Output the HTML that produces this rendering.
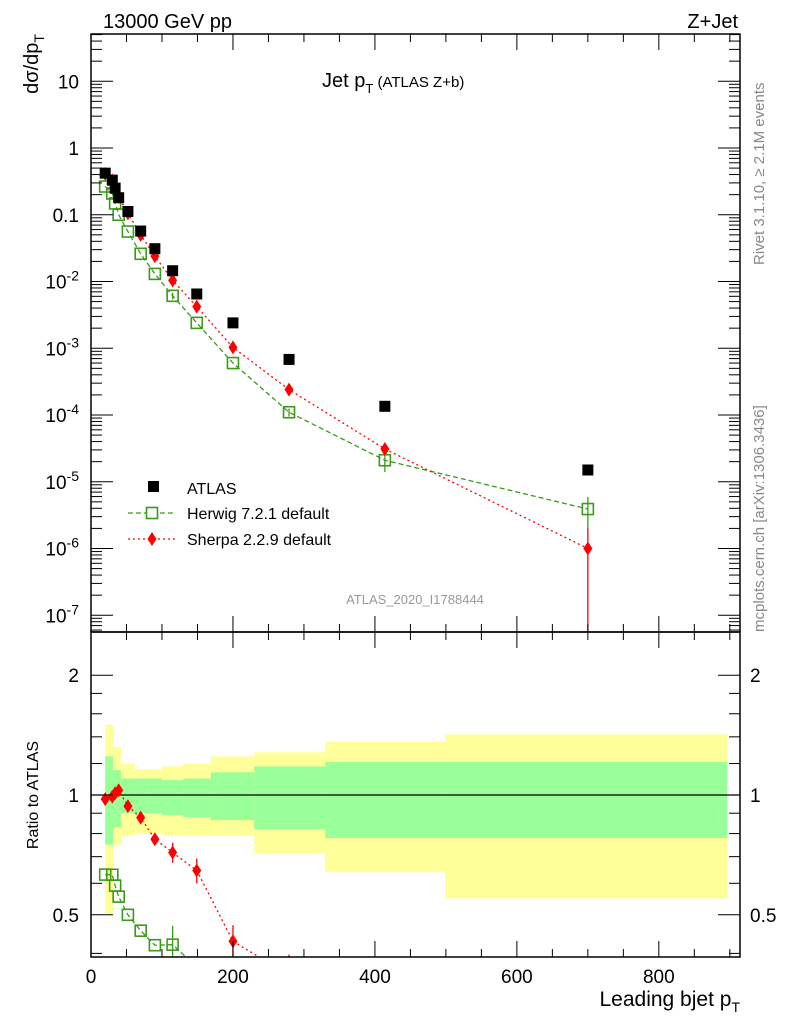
<!DOCTYPE html>
<html><head><meta charset="utf-8"><style>
html,body{margin:0;padding:0;background:#fff;width:786px;height:1024px;overflow:hidden;position:relative}
svg{display:block;font-family:"Liberation Sans",sans-serif}
</style></head><body>
<svg id="c" width="786" height="1024" style="position:absolute;left:0;top:0" xmlns="http://www.w3.org/2000/svg"></svg>
<script>
const xs=[20,30,34,39,52,70,90,115,149,200,279,414,700];
const atlas=[0.42,0.33,0.25,0.18,0.112,0.057,0.031,0.0145,0.0065,0.0024,0.00068,0.000135,1.5e-5];
const herwig=[0.265,0.208,0.148,0.10,0.056,0.026,0.013,0.0061,0.0024,0.0006,1.1e-4,2.1e-5,3.9e-6];
const herwigErr=[0,0,0,0,0,0,0,0.0007,0,0,1.5e-5,7e-6,2e-6];
const sherpa=[0.41,0.327,0.2525,0.185,0.105,0.05,0.024,0.0104,0.0042,0.00103,0.00024,3.1e-5,1e-6];
const sherpaErr=[0,0,0,0,0,0,0,0.0006,0.0003,0.0001,3e-5,6e-6,9.9e-7];
const bandEdges=[20,31,42,61,80,100,130,169,230,330,499,896];
const yelUp=[1.50,1.32,1.20,1.16,1.16,1.18,1.20,1.25,1.28,1.36,1.42];
const yelDn=[0.505,0.75,0.79,0.80,0.80,0.79,0.79,0.79,0.715,0.64,0.55];
const grnUp=[1.25,1.155,1.10,1.10,1.10,1.09,1.10,1.14,1.18,1.21,1.21];
const grnDn=[0.75,0.83,0.90,0.90,0.90,0.89,0.88,0.865,0.82,0.78,0.78];
const xTicks=[0,200,400,600,800];
const yMainTicks=[10,1,0.1,0.01,0.001,1e-4,1e-5,1e-6,1e-7];
const yRatioTicks=[0.5,1,2];

const L=91,R=740,T=34,M=632,B=957;
const X=v=>L+v*0.7098;
const clamp=(y,a,b)=>Math.max(a,Math.min(b,y));
const Y=v=>clamp(148-Math.log10(v)*66.75,T-20,M+20);
const YR=v=>clamp(795-Math.log10(v)*398,M-20,B+20);
const S=document.getElementById('c');
const NS='http://www.w3.org/2000/svg';
function el(t,a,p){const e=document.createElementNS(NS,t);for(const k in a)e.setAttribute(k,a[k]);(p||S).appendChild(e);return e;}
function txt(x,y,s,a){const e=el('text',Object.assign({x:x,y:y},a||{}));e.innerHTML=s;return e;}

const defs=el('defs',{});
const c1=el('clipPath',{id:'cm'},defs);el('rect',{x:L,y:T,width:R-L,height:M-T},c1);
const c2=el('clipPath',{id:'cr'},defs);el('rect',{x:L,y:M,width:R-L,height:B-M},c2);

const gb=el('g',{'clip-path':'url(#cr)'});


for(let i=0;i<yelUp.length;i++){
  const x0=X(bandEdges[i]),x1=X(bandEdges[i+1]);
  const r1=el('rect',{x:x0,y:YR(yelUp[i]),width:x1-x0+0.5,height:YR(yelDn[i])-YR(yelUp[i]),fill:'#ffff99'},gb);
  
  
  const r2=el('rect',{x:x0,y:YR(grnUp[i]),width:x1-x0+0.5,height:YR(grnDn[i])-YR(grnUp[i]),fill:'#99ff99'},gb);
  
  
}
el('line',{x1:L,x2:R,y1:YR(1),y2:YR(1),stroke:'#000','stroke-width':1.3});

function series(g,vals,errs,color,dash,marker,yf,base){
  let d='';
  vals.forEach((v,i)=>{const yv=base?v/base[i]:v;d+=(i?'L':'M')+X(xs[i])+' '+yf(yv);});
  el('path',{d:d,fill:'none',stroke:color,'stroke-width':1.3,'stroke-dasharray':dash},g);
  vals.forEach((v,i)=>{
    const yv=base?v/base[i]:v, e=base?errs[i]/base[i]:errs[i];
    const cx=X(xs[i]),cy=yf(yv);
    if(e>0){el('line',{x1:cx,x2:cx,y1:yf(yv+e),y2:yf(Math.max(yv-e,1e-12)),stroke:color,'stroke-width':1.3},g);}
    let m;
    if(marker==='sq')m=el('rect',{x:cx-5.5,y:cy-5.5,width:11,height:11,fill:'none',stroke:color,'stroke-width':1.6},g);
    else m=el('path',{d:`M${cx} ${cy-7}L${cx+4.5} ${cy}L${cx} ${cy+7}L${cx-4.5} ${cy}Z`,fill:color},g);
    
    
  });
}
const gm=el('g',{'clip-path':'url(#cm)'});
series(gm,herwig,herwigErr,'#3a9a1a','5,3','sq',Y);
series(gm,sherpa,sherpaErr,'#ff0000','2,3','di',Y);
atlas.forEach((v,i)=>{const r=el('rect',{x:X(xs[i])-5.5,y:Y(v)-5.5,width:11,height:11,fill:'#000'},gm);
  
  });
const gr=el('g',{'clip-path':'url(#cr)'});
series(gr,herwig,herwigErr,'#3a9a1a','5,3','sq',YR,atlas);
series(gr,sherpa,sherpaErr,'#ff0000','2,3','di',YR,atlas);

el('rect',{x:L,y:T,width:R-L,height:M-T,fill:'none',stroke:'#000','stroke-width':1.5});
el('rect',{x:L,y:M,width:R-L,height:B-M,fill:'none',stroke:'#000','stroke-width':1.5});

for(let v=0;v<=900;v+=50){
  const x=X(v),maj=v%200===0,len=maj?16:8;
  [[T,1],[M,-1],[M,1],[B,-1]].forEach(([y,s])=>el('line',{x1:x,x2:x,y1:y,y2:y+s*len,stroke:'#000'}));
}
xTicks.forEach(v=>{const t=txt(X(v),983,v,{'font-size':19,'text-anchor':'middle'});
  });
for(let e=-8;e<=1;e++){for(let k=1;k<10;k++){const v=k*Math.pow(10,e);const y=148-Math.log10(v)*66.75;
  if(y<T||y>M)continue;const len=k===1?22:11;
  el('line',{x1:L,x2:L+len,y1:y,y2:y,stroke:'#000'});el('line',{x1:R,x2:R-len,y1:y,y2:y,stroke:'#000'});}}
yMainTicks.forEach(v=>{const e=Math.round(Math.log10(v));
  let s=v>=0.1?String(v):'10<tspan dy="-8" font-size="14">'+e+'</tspan>';
  const t=txt(79,Y(v)+7,s,{'font-size':19,'text-anchor':'end'});
  });
[0.4,0.5,0.6,0.7,0.8,0.9,1,2].forEach(v=>{const y=YR(v);const maj=(v===0.5||v===1||v===2);const len=maj?22:11;
  el('line',{x1:L,x2:L+len,y1:y,y2:y,stroke:'#000'});el('line',{x1:R,x2:R-len,y1:y,y2:y,stroke:'#000'});});
[1.2,1.4,1.6,1.8].forEach(v=>{const y=YR(v);el('line',{x1:L,x2:L+11,y1:y,y2:y,stroke:'#000'});el('line',{x1:R,x2:R-11,y1:y,y2:y,stroke:'#000'});});
yRatioTicks.forEach(v=>{[[79,'end'],[750,'start']].forEach(([x,a])=>{const t=txt(x,YR(v)+7,v,{'font-size':19,'text-anchor':a});
  });});
</script>
<svg width="786" height="1024" style="position:absolute;left:0;top:0" font-family="Liberation Sans, sans-serif">
<text x="103" y="28" font-size="20">13000 GeV pp</text>
<text x="738" y="28" font-size="20" text-anchor="end">Z+Jet</text>
<text x="322" y="87" font-size="20">Jet p<tspan dy="6" font-size="13">T</tspan><tspan dy="-6" font-size="15"> (ATLAS Z+b)</tspan></text>
<text transform="translate(38,34) rotate(-90)" font-size="20" text-anchor="end">dσ/dp<tspan dy="6" font-size="14">T</tspan></text>
<text transform="translate(38,795) rotate(-90)" font-size="16" text-anchor="middle">Ratio to ATLAS</text>
<text x="740" y="1006" font-size="21" text-anchor="end">Leading bjet p<tspan dy="6" font-size="14">T</tspan></text>
<text transform="translate(764,265) rotate(-90)" font-size="15" fill="#888">Rivet 3.1.10, ≥ 2.1M events</text>
<text transform="translate(764,632) rotate(-90)" font-size="15" fill="#888">mcplots.cern.ch [arXiv:1306.3436]</text>
<text x="415" y="604" font-size="13" fill="#999" text-anchor="middle">ATLAS_2020_I1788444</text>
<g>
<rect x="148" y="481" width="11" height="11" fill="#000"/>
<text x="187" y="494" font-size="16">ATLAS</text>
<line x1="128" x2="176" y1="513" y2="513" stroke="#3a9a1a" stroke-width="1.3" stroke-dasharray="5,3"/>
<rect x="146.5" y="507.5" width="11" height="11" fill="#fff" stroke="#3a9a1a" stroke-width="1.6"/>
<text x="187" y="519" font-size="16">Herwig 7.2.1 default</text>
<line x1="128" x2="176" y1="539" y2="539" stroke="#f00" stroke-width="1.3" stroke-dasharray="2,3"/>
<path d="M152 532L156.5 539L152 546L147.5 539Z" fill="#f00"/>
<text x="187" y="545" font-size="16">Sherpa 2.2.9 default</text>
</g>
</svg>
</body></html>
